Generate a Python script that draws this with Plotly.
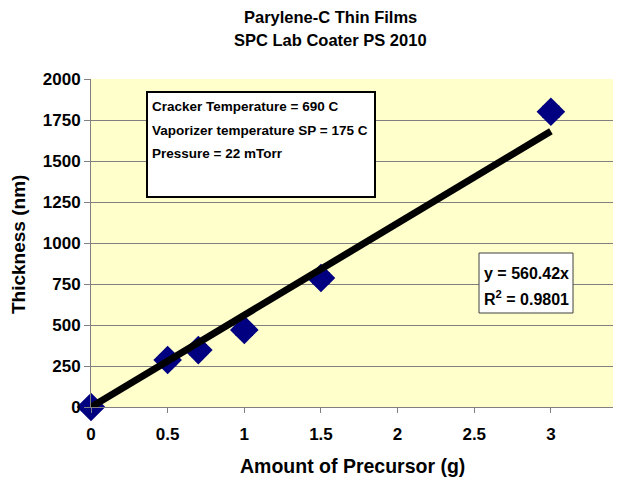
import plotly.graph_objects as go

precursor_g = [0, 0.5, 0.7, 1.0, 1.5, 3.0]
thickness_nm = [0, 287, 347, 470, 787, 1800]
x_err = [0.05, 0.05, 0.05, 0.05, 0.05, 0.05]
trend_slope = 560.42
trend_x = [0, 3.0]
trend_y = [trend_slope * v for v in trend_x]
y_ticks = [0, 250, 500, 750, 1000, 1250, 1500, 1750, 2000]
x_ticks = [0, 0.5, 1, 1.5, 2, 2.5, 3, 3.5]
title_lines = ["Parylene-C Thin Films", "SPC Lab Coater PS 2010"]
info_lines = ["Cracker Temperature = 690 C",
              "Vaporizer temperature SP = 175 C",
              "Pressure = 22 mTorr"]
eq_lines = ["y = 560.42x", "R<sup>2</sup> = 0.9801"]

FONT = "Arial, Liberation Sans, sans-serif"

# plot area in page pixels (page has 8px body margin)
PL, PT, PB, PW = 91, 79, 407, 538
FIG_H = 480


def px(p):
    return (p - PL) / PW


def py(p):
    return (PB - p) / (PB - PT)


fig = go.Figure()
fig.add_trace(go.Scatter(
    x=precursor_g, y=thickness_nm, mode="markers",
    marker=dict(symbol="diamond", size=22, color="#000080"),
    error_x=dict(type="data", array=x_err, color="black", thickness=2, width=6),
    cliponaxis=False, showlegend=False,
))
fig.add_trace(go.Scatter(
    x=trend_x, y=trend_y, mode="lines",
    line=dict(color="black", width=7),
    cliponaxis=False, showlegend=False,
))

fig.update_layout(
    width=621, height=FIG_H,
    margin=dict(l=PL - 8, r=0, t=PT - 8, b=FIG_H - (PB - 8)),
    paper_bgcolor="white", plot_bgcolor="#FFFFCC",
    font=dict(family=FONT, size=12, color="black"),
    xaxis=dict(range=[0, PW / 153.3], tickvals=x_ticks,
               ticktext=[f"<b>{t:g}</b>" for t in x_ticks],
               showgrid=False, zeroline=False, showline=True,
               linecolor="#808080", linewidth=1,
               ticks="outside", ticklen=5, tickcolor="#808080",
               tickfont=dict(size=17), ticklabelstandoff=7),
    yaxis=dict(range=[0, 2000], tickvals=y_ticks,
               ticktext=[f"<b>{t}</b>" for t in y_ticks],
               showgrid=True, gridcolor="#808080", gridwidth=1,
               zeroline=False, showline=True,
               linecolor="#808080", linewidth=1,
               ticks="outside", ticklen=6, tickcolor="#808080",
               tickfont=dict(size=17)),
)

for txt, yy in zip(title_lines, [17, 40]):
    fig.add_annotation(xref="paper", yref="paper", x=px(330), y=py(yy),
                       xanchor="center", yanchor="middle", showarrow=False,
                       text=f"<b>{txt}</b>", font=dict(size=16.5))

fig.add_annotation(xref="paper", yref="paper", x=px(352), y=py(466),
                   xanchor="center", yanchor="middle", showarrow=False,
                   text="<b>Amount of Precursor (g)</b>", font=dict(size=19.5))
fig.add_annotation(xref="paper", yref="paper", x=px(18), y=py(245),
                   xanchor="center", yanchor="middle", showarrow=False,
                   textangle=-90,
                   text="<b>Thickness (nm)</b>", font=dict(size=19))

fig.add_shape(type="rect", xref="paper", yref="paper",
              x0=px(147), x1=px(375), y0=py(197), y1=py(92),
              line=dict(color="black", width=2), fillcolor="white", layer="above")
for txt, yy in zip(info_lines, [107, 130, 153]):
    fig.add_annotation(xref="paper", yref="paper", x=px(150), y=py(yy),
                       xanchor="left", yanchor="middle", showarrow=False,
                       text=f"<b>{txt}</b>", font=dict(size=13.5))

fig.add_shape(type="rect", xref="paper", yref="paper",
              x0=px(479), x1=px(573), y0=py(313), y1=py(253),
              line=dict(color="#404040", width=1), fillcolor="white", layer="above")
for txt, yy in zip(eq_lines, [273, 298]):
    fig.add_annotation(xref="paper", yref="paper", x=px(482), y=py(yy),
                       xanchor="left", yanchor="middle", showarrow=False,
                       text=f"<b>{txt}</b>", font=dict(size=16))

fig.write_html("out.html")
